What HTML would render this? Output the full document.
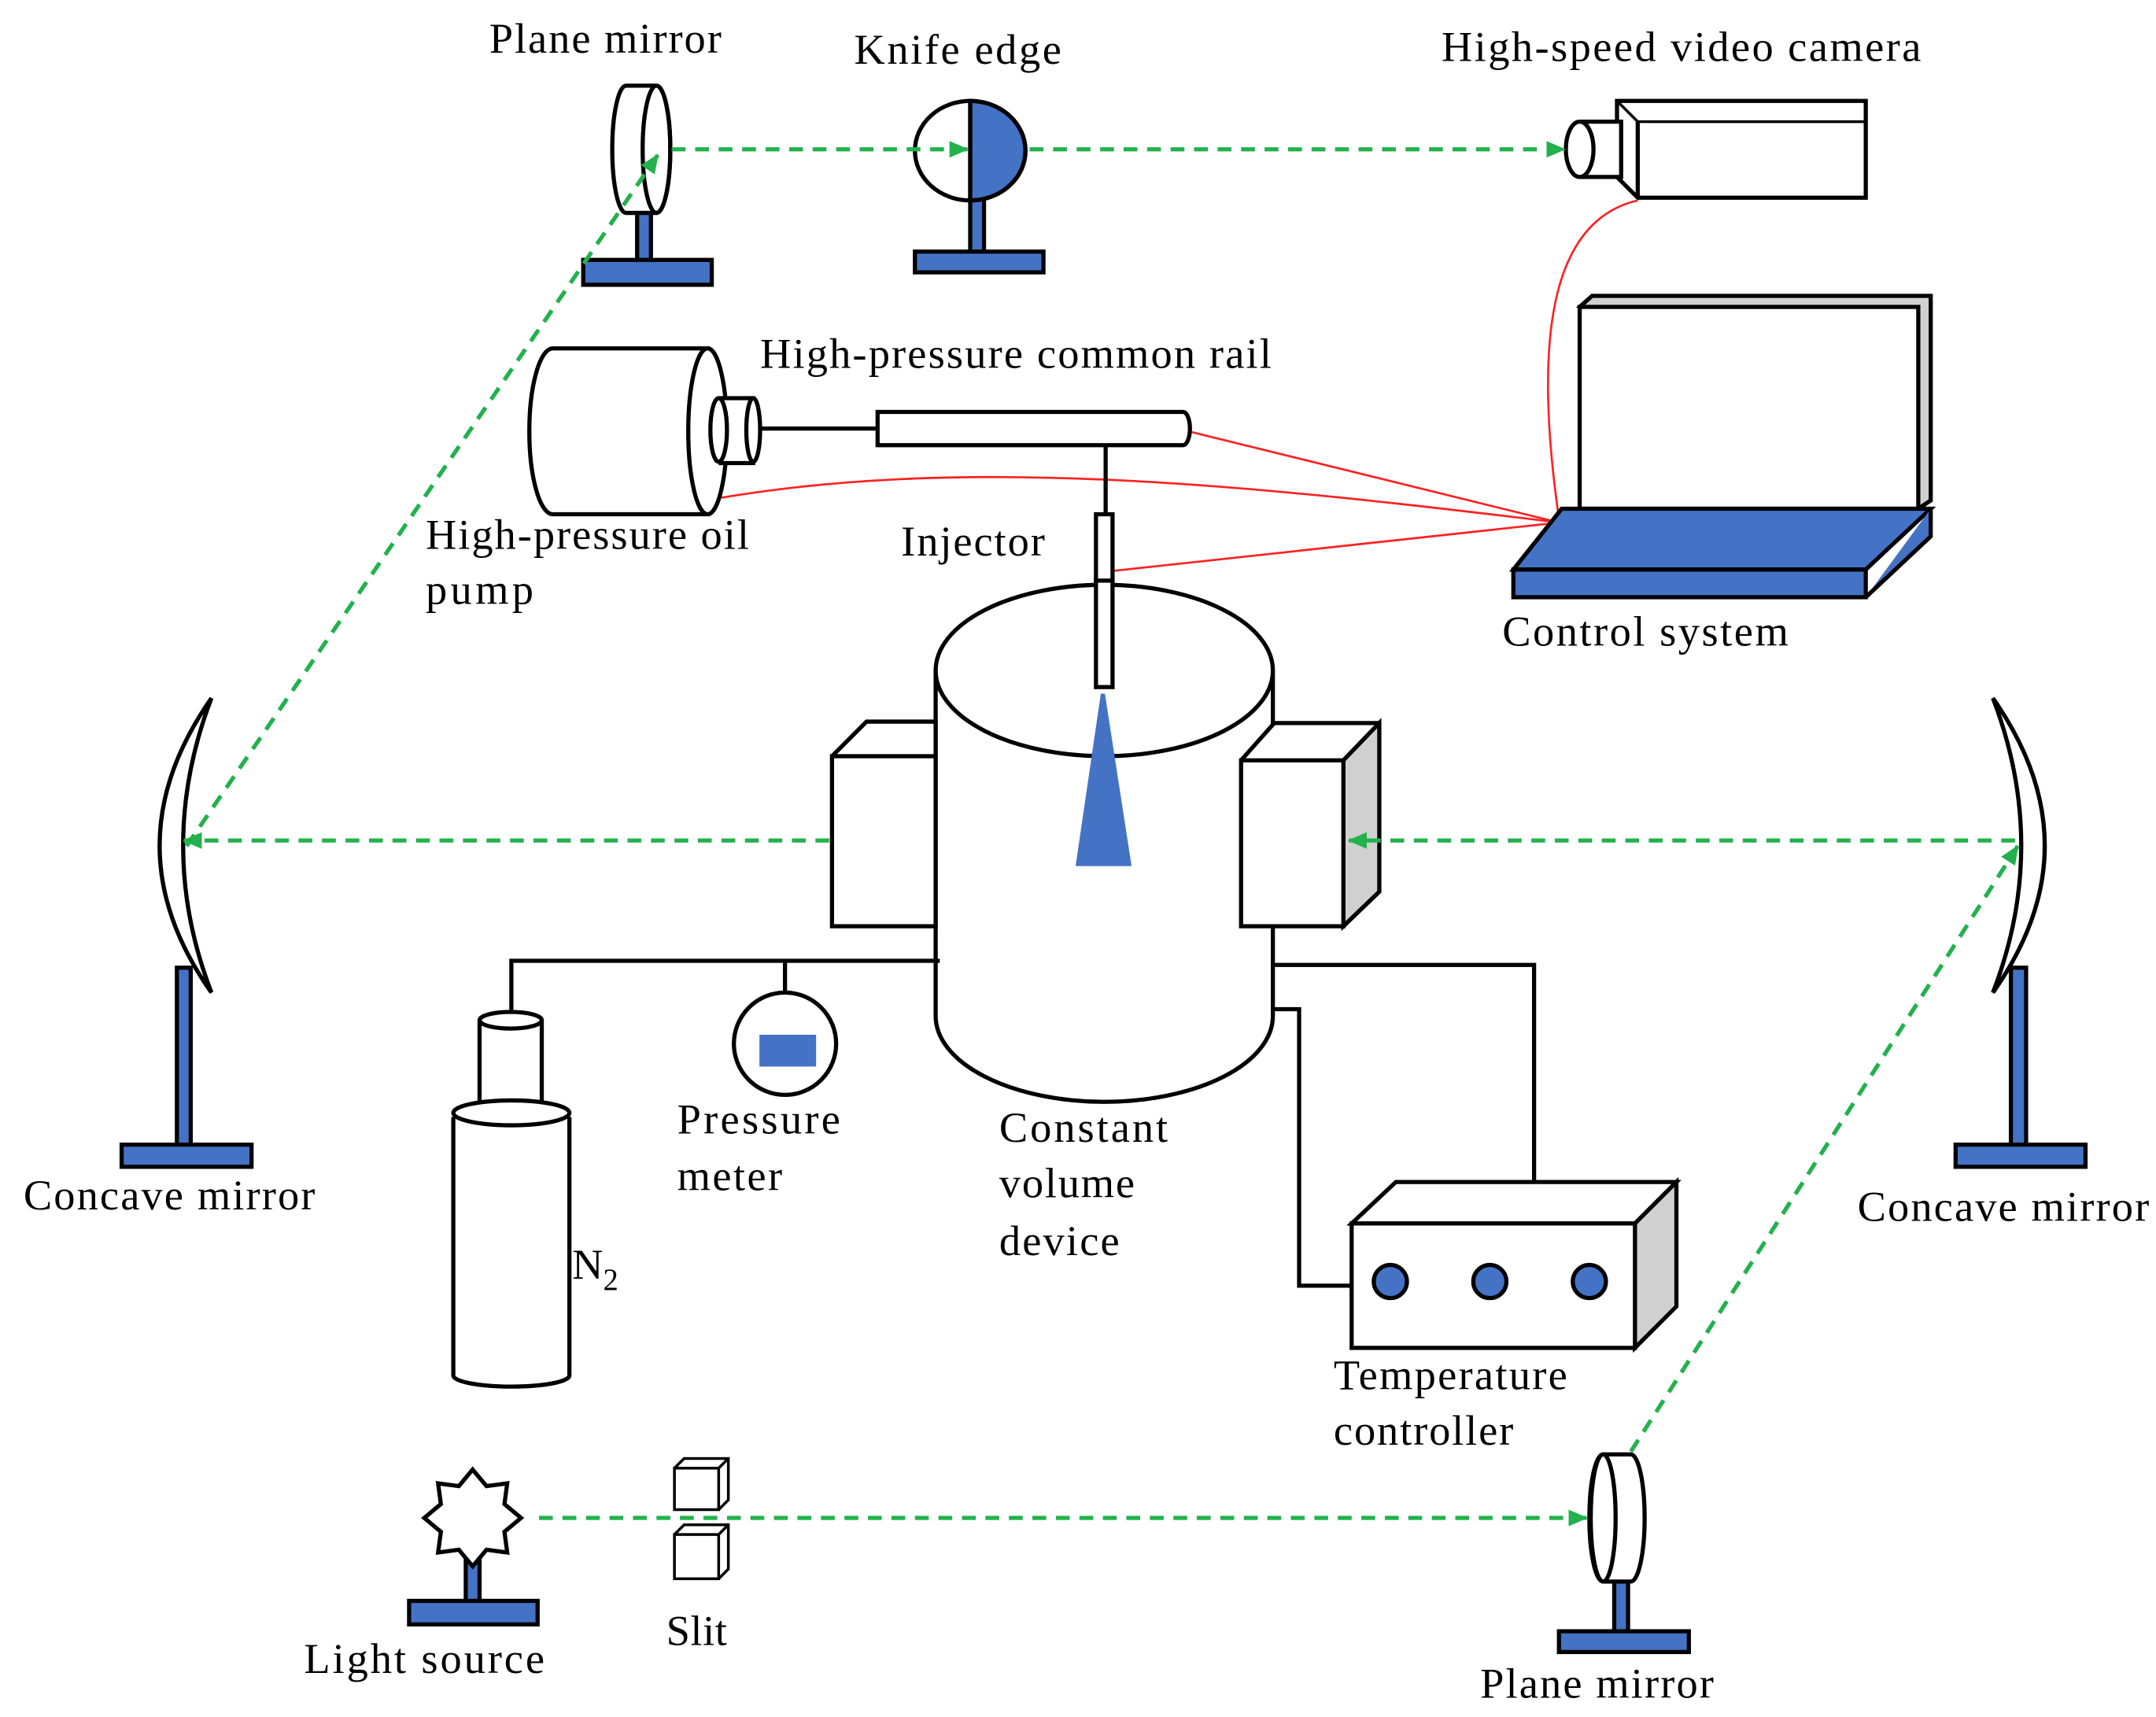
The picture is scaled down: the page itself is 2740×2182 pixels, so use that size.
<!DOCTYPE html>
<html><head><meta charset="utf-8"><style>
html,body{margin:0;padding:0;background:#fff}
svg{display:block}
text{font-family:"Liberation Serif","Times New Roman",serif;font-size:31px;fill:#000}
</style></head><body>
<svg width="2740" height="2182" viewBox="0 0 1560 1242" preserveAspectRatio="none" xmlns="http://www.w3.org/2000/svg">
<defs>
<marker id="ar2" markerWidth="14" markerHeight="14" refX="13" refY="7" orient="auto" markerUnits="userSpaceOnUse"><path d="M0,1 L14,7 L0,13 z" fill="#22b14c"/></marker>
</defs>
<g fill="none" stroke="#000" stroke-width="3">
<g stroke="#ff2020" stroke-width="1.5">
<path d="M1185,145 C1120,160 1110,250 1128,375"/>
<path d="M1128,378 L860,312"/>
<path d="M1128,378 C900,350 700,330 522,360"/>
<path d="M1128,378 L805,413"/>
</g>
<rect x="461" y="153" width="10" height="37" fill="#4472c4"/>
<rect x="422" y="188" width="93" height="18" fill="#4472c4"/>
<path d="M453,62 L475,62 A10,46 0 0 1 475,154 L453,154 A10,46 0 0 1 453,62 z" fill="#fff"/>
<ellipse cx="475" cy="108" rx="10" ry="46"/>
<rect x="702" y="143" width="10" height="40" fill="#4472c4"/>
<rect x="662" y="182" width="93" height="15" fill="#4472c4"/>
<path d="M702,73 A40,36 0 0 1 702,145 z" fill="#4472c4"/>
<ellipse cx="702" cy="109" rx="40" ry="36"/>
<line x1="702" y1="73" x2="702" y2="145"/>
<path d="M1170,73 L1350,73 L1350,143 L1185,143 L1170,128 z" fill="#fff"/>
<line x1="1185" y1="88" x2="1185" y2="143"/>
<path d="M1170,73 L1185,88 L1350,88" stroke-width="2"/>
<path d="M1143,88 L1173,88 L1173,128 L1143,128" fill="#fff"/>
<ellipse cx="1143" cy="108" rx="10" ry="20" fill="#fff"/>
<path d="M1143,222 L1152,214 L1397,214 L1397,362 L1388,368 z" fill="#d0d0d0"/>
<rect x="1143" y="222" width="245" height="146" fill="#fff"/>
<path d="M1130,368 L1397,368 L1350,412 L1095,412 z" fill="#4472c4"/>
<rect x="1095" y="412" width="255" height="20" fill="#4472c4"/>
<path d="M1350,432 L1397,388 L1397,368" fill="#4472c4"/>
<path d="M400,252 L512,252 L512,372 L400,372 A17,60 0 0 1 400,252 z" fill="#fff"/>
<ellipse cx="512" cy="312" rx="14" ry="60" fill="#fff"/>
<path d="M520,288 L545,288 L545,335 L520,335" fill="#fff"/>
<ellipse cx="520" cy="311" rx="6" ry="23" fill="#fff"/>
<ellipse cx="545" cy="311" rx="5" ry="23" fill="#fff"/>
<line x1="550" y1="310" x2="635" y2="310"/>
<path d="M635,298 L856,298 A5,12 0 0 1 856,322 L635,322 z" fill="#fff"/>
<line x1="800" y1="322" x2="800" y2="372"/>
<rect x="793" y="372" width="12" height="125" fill="#fff"/>
<path d="M677,485 L677,735 A122,62 0 0 0 921,735 L921,485" fill="#fff"/>
<ellipse cx="799" cy="485" rx="122" ry="62" fill="#fff"/>
<rect x="793" y="420" width="12" height="77" fill="#fff"/>
<path d="M798,502 L780,625 L817,625 z" fill="#4472c4" stroke="#4472c4"/>
<path d="M602,547 L627,522 L677,522 L677,547" fill="#fff"/>
<rect x="602" y="547" width="75" height="123" fill="#fff"/>
<path d="M898,550 L922,523 L998,523 L998,645 L972,670" fill="#fff"/>
<path d="M972,550 L998,523 L998,645 L972,670 z" fill="#d0d0d0"/>
<rect x="898" y="550" width="74" height="120" fill="#fff"/>
<path d="M370,733 L370,695 L680,695"/>
<line x1="568" y1="695" x2="568" y2="718"/>
<circle cx="568" cy="755" r="37" fill="#fff"/>
<rect x="551" y="750" width="38" height="20" fill="#4472c4" stroke="#4472c4"/>
<path d="M921,698 L1110,698 L1110,855"/>
<path d="M921,730 L940,730 L940,930 L978,930"/>
<path d="M347,738 L347,800 L392,800 L392,738" fill="#fff"/>
<ellipse cx="369.5" cy="738" rx="22.5" ry="6" fill="#fff"/>
<path d="M328,808 L328,995 A42,8 0 0 0 412,995 L412,808" fill="#fff"/>
<ellipse cx="370" cy="805" rx="42" ry="9" fill="#fff"/>
<path d="M978,885 L1010,855 L1213,855 L1183,885 z" fill="#fff"/>
<path d="M1183,885 L1213,855 L1213,945 L1183,975 z" fill="#d0d0d0"/>
<rect x="978" y="885" width="205" height="90" fill="#fff"/>
<circle cx="1006" cy="927" r="12" fill="#4472c4"/>
<circle cx="1078" cy="927" r="12" fill="#4472c4"/>
<circle cx="1150" cy="927" r="12" fill="#4472c4"/>
<rect x="128" y="700" width="10" height="130" fill="#4472c4"/>
<rect x="88" y="828" width="94" height="16" fill="#4472c4"/>
<path d="M153,505 Q78,612 153,718 Q112,612 153,505 z" fill="#fff"/>
<rect x="1455" y="700" width="11" height="130" fill="#4472c4"/>
<rect x="1415" y="828" width="94" height="16" fill="#4472c4"/>
<path d="M1442,505 Q1517,612 1442,718 Q1483,612 1442,505 z" fill="#fff"/>
<rect x="337" y="1120" width="10" height="40" fill="#4472c4"/>
<rect x="296" y="1158" width="93" height="17" fill="#4472c4"/>
<path d="M342,1063 L352,1075 L367,1073 L365,1088 L377,1098 L365,1108 L367,1123 L352,1121 L342,1133 L332,1121 L317,1123 L319,1108 L307,1098 L319,1088 L317,1073 L332,1075 z" fill="#fff"/>
<path d="M488,1062 L495,1055 L527,1055 L527,1085 L520,1092" fill="#fff" stroke-width="2"/>
<rect x="488" y="1062" width="32" height="30" fill="#fff" stroke-width="2"/>
<path d="M520,1062 L527,1055" stroke-width="2"/>
<path d="M488,1110 L495,1103 L527,1103 L527,1135 L520,1142" fill="#fff" stroke-width="2"/>
<rect x="488" y="1110" width="32" height="32" fill="#fff" stroke-width="2"/>
<path d="M520,1110 L527,1103" stroke-width="2"/>
<rect x="1168" y="1143" width="10" height="38" fill="#4472c4"/>
<rect x="1128" y="1180" width="94" height="15" fill="#4472c4"/>
<path d="M1160,1052 L1180,1052 A10,46 0 0 1 1180,1144 L1160,1144 A10,46 0 0 1 1160,1052 z" fill="#fff"/>
<ellipse cx="1160" cy="1098" rx="9" ry="46"/>
</g>
<g stroke="#22b14c" stroke-width="3" stroke-dasharray="10,7" fill="none">
<line x1="390" y1="1098" x2="1148" y2="1098" marker-end="url(#ar2)"/>
<line x1="1180" y1="1050" x2="1460" y2="612" marker-end="url(#ar2)"/>
<line x1="1458" y1="608" x2="976" y2="608" marker-end="url(#ar2)"/>
<line x1="600" y1="608" x2="133" y2="608" marker-end="url(#ar2)"/>
<line x1="135" y1="612" x2="476" y2="112" marker-end="url(#ar2)"/>
<line x1="486" y1="108" x2="700" y2="108" marker-end="url(#ar2)"/>
<line x1="745" y1="108" x2="1132" y2="108" marker-end="url(#ar2)"/>
</g>
<text x="354" y="38" textLength="168">Plane mirror</text>
<text x="618" y="46" textLength="150">Knife  edge</text>
<text x="1043" y="44" textLength="347">High-speed video camera</text>
<text x="550" y="266" textLength="370">High-pressure  common rail</text>
<text x="308" y="397" textLength="234">High-pressure oil</text>
<text x="308" y="437" textLength="78">pump</text>
<text x="652" y="402" textLength="104">Injector</text>
<text x="1087" y="467" textLength="207">Control system</text>
<text x="17" y="875" textLength="211">Concave mirror</text>
<text x="490" y="820" textLength="118">Pressure</text>
<text x="490" y="861" textLength="76">meter</text>
<text x="723" y="826" textLength="122">Constant</text>
<text x="723" y="866" textLength="98">volume</text>
<text x="723" y="908" textLength="87">device</text>
<text x="414" y="925">N<tspan font-size="22" dy="8">2</tspan></text>
<text x="965" y="1005" textLength="169">Temperature</text>
<text x="965" y="1045" textLength="130">controller</text>
<text x="1344" y="883" textLength="211">Concave mirror</text>
<text x="220" y="1210" textLength="174">Light source</text>
<text x="482" y="1190" textLength="44">Slit</text>
<text x="1071" y="1228" textLength="169">Plane mirror</text>
</svg>
</body></html>
